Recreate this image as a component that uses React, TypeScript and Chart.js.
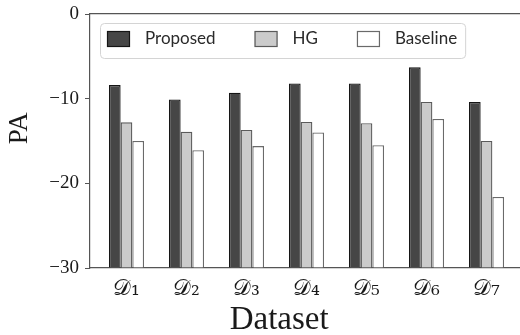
import React, { useEffect, useRef } from "react";
import { Chart, registerables } from "chart.js";

Chart.register(...registerables);

const categories = ["𝒟₁", "𝒟₂", "𝒟₃", "𝒟₄", "𝒟₅", "𝒟₆", "𝒟₇"];
const seriesNames = ["Proposed", "HG", "Baseline"];
const proposed = [-8.4, -10.1, -9.3, -8.2, -8.2, -6.3, -10.4];
const hg = [-12.8, -13.9, -13.7, -12.75, -12.9, -10.4, -15.0];
const baseline = [-15.0, -16.1, -15.6, -14.0, -15.5, -12.4, -21.6];
const yTicks = [0, -10, -20, -30];
const xTitle = "Dataset";
const yTitle = "PA";

const Y_MIN = -30;
const Y_MAX = 0;

const fills = ["#464646", "#cbcbcb", "#ffffff"];
const borders = ["#151515", "#5a5a5a", "#6a6a6a"];

const decorPlugin = {
  id: "decor",
  afterDraw(chart: any) {
    const { ctx, chartArea: a } = chart;
    ctx.save();
    const font = "17px Lato, 'Open Sans', sans-serif";
    ctx.font = font;
    const ds = chart.data.datasets;
    const sw = 23;
    const sh = 16;
    const gapText = 15;
    const gapItem = 39;
    const startX = a.left + 17;
    const sy = a.top + 17;
    let x = startX;
    const items: any[] = [];
    ds.forEach((d: any) => {
      const tw = ctx.measureText(d.label).width;
      items.push({ x, tw, d });
      x += sw + gapText + tw + gapItem;
    });
    const last = items[items.length - 1];
    const fl = a.left + 10;
    const ft = a.top + 9;
    const fr = last.x + sw + gapText + last.tw + 8;
    const fh = 35;
    ctx.beginPath();
    ctx.roundRect(fl + 0.5, ft + 0.5, fr - fl, fh, 4);
    ctx.fillStyle = "rgba(255,255,255,0.85)";
    ctx.fill();
    ctx.strokeStyle = "#d4d4d4";
    ctx.lineWidth = 1;
    ctx.stroke();
    items.forEach((it) => {
      ctx.fillStyle = it.d.backgroundColor;
      ctx.fillRect(it.x, sy, sw, sh);
      ctx.strokeStyle = it.d.borderColor;
      ctx.lineWidth = 1.2;
      ctx.strokeRect(it.x + 0.5, sy + 0.5, sw - 1, sh - 1);
      ctx.fillStyle = "#2a2a2a";
      ctx.textBaseline = "middle";
      ctx.textAlign = "left";
      ctx.fillText(it.d.label, it.x + sw + gapText, sy + sh / 2);
    });
    ctx.fillStyle = "#1a1a1a";
    ctx.font = "33px 'Liberation Serif', 'DejaVu Serif', serif";
    ctx.textAlign = "center";
    ctx.textBaseline = "alphabetic";
    ctx.fillText(xTitle, a.left + (a.right - a.left) * 0.44, 329);
    ctx.save();
    ctx.translate(27, a.top + (a.bottom - a.top) * 0.45);
    ctx.rotate(-Math.PI / 2);
    ctx.font = "27px 'Liberation Serif', 'DejaVu Serif', serif";
    ctx.fillText(yTitle, 0, 0);
    ctx.restore();
    ctx.restore();
  },
};

export default function App() {
  const ref = useRef<HTMLCanvasElement | null>(null);
  useEffect(() => {
    if (!ref.current) return;
    const series = [proposed, hg, baseline];
    const chart = new Chart(ref.current, {
      type: "bar",
      data: {
        datasets: series.map((vals, i) => ({
          label: seriesNames[i],
          data: vals.map((v, k) => ({ x: k, y: v })),
          backgroundColor: fills[i],
          borderColor: borders[i],
          borderWidth: 1.3,
          base: Y_MIN,
          categoryPercentage: 0.585,
          barPercentage: 1.0,
        })),
      },
      options: {
        responsive: false,
        animation: false,
        layout: { padding: 0 },
        plugins: {
          legend: { display: false },
          tooltip: { enabled: false },
          title: { display: false },
        },
        scales: {
          x: {
            type: "linear",
            position: "bottom",
            offset: false,
            min: -0.608,
            max: 6.558,
            afterFit: (s: any) => {
              s.height = 67;
              s.paddingLeft = 0;
              s.paddingRight = 0;
            },
            grid: { display: false, drawTicks: false },
            border: { display: true, color: "#555", width: 1.2 },
            ticks: {
              stepSize: 1,
              includeBounds: false,
              autoSkip: false,
              maxRotation: 0,
              padding: 8,
              color: "#1a1a1a",
              font: { family: "'DejaVu Serif', 'Liberation Serif', serif", size: 22 },
              callback: (v: any) => {
                const n = Number(v);
                return Number.isInteger(n) && n >= 0 && n < categories.length ? categories[n] : "";
              },
            },
          },
          xTop: {
            type: "linear",
            position: "top",
            display: true,
            offset: false,
            min: 0,
            max: 1,
            afterFit: (s: any) => {
              s.height = 14;
            },
            grid: { display: false, drawTicks: false },
            border: { display: true, color: "#555", width: 1.2 },
            ticks: { display: false },
          },
          y: {
            min: Y_MIN,
            max: Y_MAX,
            afterFit: (s: any) => {
              s.width = 90;
              s.paddingTop = 0;
              s.paddingBottom = 0;
            },
            afterBuildTicks: (s: any) => {
              s.ticks = yTicks.map((v) => ({ value: v }));
            },
            grid: {
              display: true,
              drawOnChartArea: false,
              drawTicks: true,
              tickLength: 5,
              tickColor: "#555",
            },
            border: { display: true, color: "#555", width: 1.2 },
            ticks: {
              padding: 6,
              color: "#1a1a1a",
              font: { family: "'Liberation Serif', 'DejaVu Serif', serif", size: 19 },
              callback: (v: any) => {
                const n = Number(v);
                return n < 0 ? "\u2212" + Math.abs(n) : String(n);
              },
            },
          },
        },
      },
      plugins: [decorPlugin],
    } as any);
    return () => chart.destroy();
  }, []);
  return (
    <div style={{ position: "absolute", left: 0, top: 0, width: 520, height: 335, background: "#fff" }}>
      <canvas ref={ref} width={520} height={335} style={{ display: "block" }} />
    </div>
  );
}
